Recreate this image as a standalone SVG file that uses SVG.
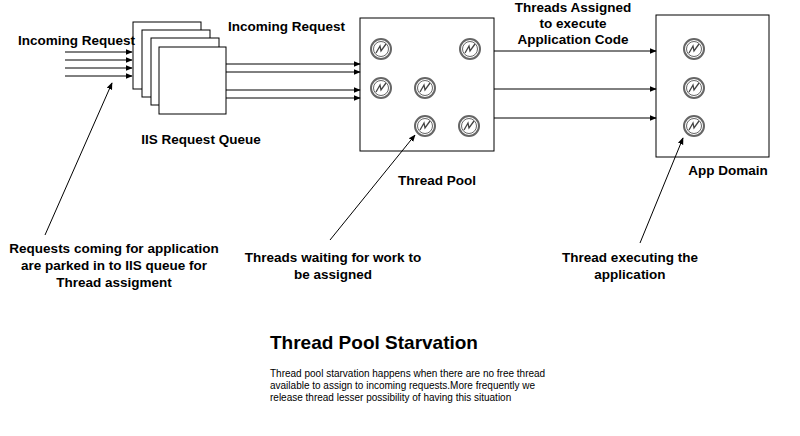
<svg xmlns="http://www.w3.org/2000/svg" width="800" height="436" viewBox="0 0 800 436">
<defs>
<marker id="ah" viewBox="0 0 10 10" refX="9" refY="5" markerWidth="7" markerHeight="7" orient="auto"><path d="M0,1 L10,5 L0,9 Z" fill="#000"/></marker>
<g id="ic"><circle r="10" fill="#fff" stroke="#666" stroke-width="2"/><circle r="7.5" fill="none" stroke="#666" stroke-width="1"/><path d="M-5,4 L-1,-3 L0,2 L5,-5" fill="none" stroke="#444" stroke-width="1.3"/></g>
</defs>
<style>
.b{fill:#fff;stroke:#000;stroke-width:1}
.l{stroke:#000;stroke-width:1;fill:none}
text{font-family:"Liberation Sans",Arial,sans-serif;font-weight:bold;font-size:13.5px;fill:#000}
.s{font-weight:normal;font-size:10px}
.c{text-anchor:middle}
</style>
<rect width="800" height="436" fill="#fff"/>
<g id="queue">
<rect class="b" x="133" y="22" width="68" height="67"/>
<rect class="b" x="142" y="30" width="68" height="67"/>
<rect class="b" x="151" y="38" width="68" height="67"/>
<rect class="b" x="159" y="47" width="67" height="67"/>
<text class="c" x="201" y="144">IIS Request Queue</text>
</g>
<g id="pool">
<rect class="b" x="360" y="18" width="134" height="133"/>
<use href="#ic" x="381" y="49"/><use href="#ic" x="470" y="49"/>
<use href="#ic" x="381" y="88"/><use href="#ic" x="425" y="88"/>
<use href="#ic" x="425" y="126"/><use href="#ic" x="469" y="126"/>
<text class="c" x="437" y="185">Thread Pool</text>
</g>
<g id="appdomain">
<rect class="b" x="656" y="15" width="113" height="142"/>
<use href="#ic" x="694" y="49"/><use href="#ic" x="694" y="88"/><use href="#ic" x="694" y="126"/>
<text class="c" x="728" y="175">App Domain</text>
</g>
<g id="connectors">
<path class="l" marker-end="url(#ah)" d="M65,52H132"/>
<path class="l" marker-end="url(#ah)" d="M65,60H132"/>
<path class="l" marker-end="url(#ah)" d="M65,68H132"/>
<path class="l" marker-end="url(#ah)" d="M65,76H132"/>
<path class="l" marker-end="url(#ah)" d="M226,64H360"/>
<path class="l" marker-end="url(#ah)" d="M226,72H360"/>
<path class="l" marker-end="url(#ah)" d="M226,90H360"/>
<path class="l" marker-end="url(#ah)" d="M226,98H360"/>
<path class="l" marker-end="url(#ah)" d="M494,51H656"/>
<path class="l" marker-end="url(#ah)" d="M494,89H656"/>
<path class="l" marker-end="url(#ah)" d="M494,118H656"/>
<path class="l" marker-end="url(#ah)" d="M45,235L112,83"/>
<path class="l" marker-end="url(#ah)" d="M330,240L415,135"/>
<path class="l" marker-end="url(#ah)" d="M640,243L683,138"/>
</g>
<g id="labels">
<text x="18" y="45">Incoming Request</text>
<text x="228" y="31">Incoming Request</text>
<text class="c" x="573" y="12">Threads Assigned</text>
<text class="c" x="573" y="28">to execute</text>
<text class="c" x="573" y="44">Application Code</text>
<text class="c" x="114" y="253">Requests coming for application</text>
<text class="c" x="114" y="270">are parked in to IIS queue for</text>
<text class="c" x="114" y="287">Thread assigment</text>
<text class="c" x="333" y="262">Threads waiting for work to</text>
<text class="c" x="333" y="279">be assigned</text>
<text class="c" x="630" y="262">Thread executing the</text>
<text class="c" x="630" y="279">application</text>
<text x="270" y="349" style="font-size:19px">Thread Pool Starvation</text>
<text class="s" x="270" y="377">Thread pool starvation happens when there are no free thread</text>
<text class="s" x="270" y="389">available to assign to incoming requests.More frequently we</text>
<text class="s" x="270" y="401">release thread lesser possibility of having this situation</text>
</g>
</svg>
